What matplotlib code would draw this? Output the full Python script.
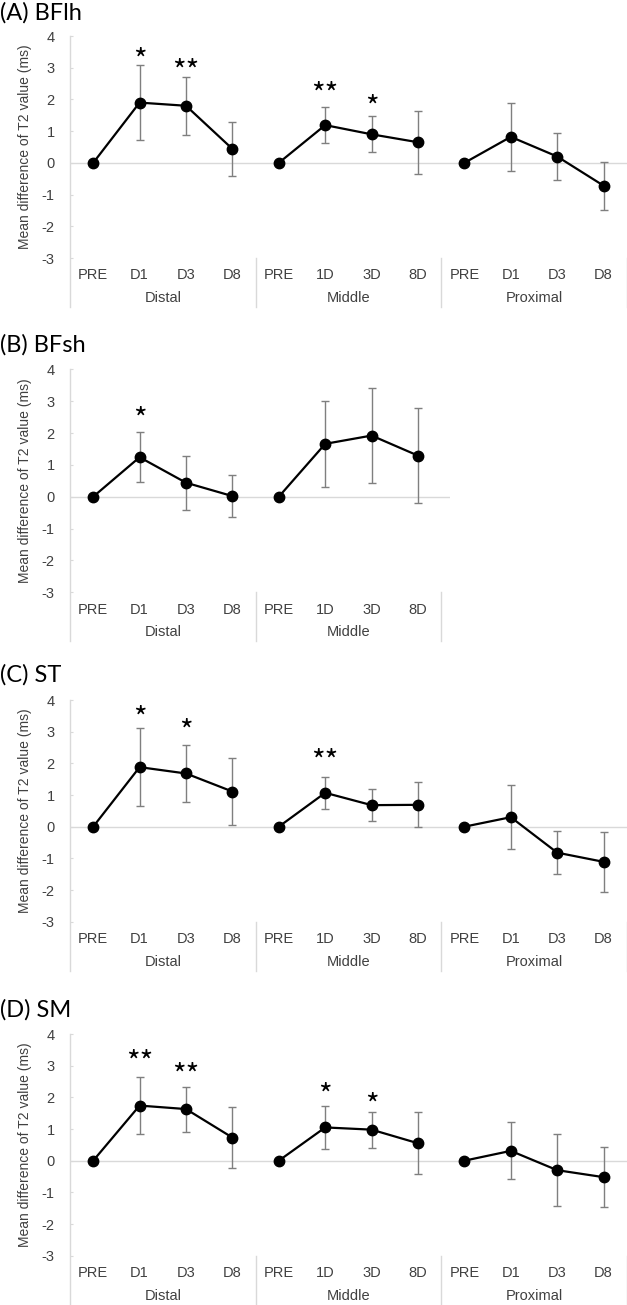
import numpy as np
import matplotlib
matplotlib.use("Agg")
import matplotlib.pyplot as plt
import matplotlib.transforms as mtransforms
from matplotlib.lines import Line2D

plt.rcParams['font.family'] = ['Liberation Sans', 'DejaVu Sans']

# ---------------- data ----------------
ticks_3 = ["PRE", "D1", "D3", "D8", "PRE", "1D", "3D", "8D", "PRE", "D1", "D3", "D8"]
ticks_2 = ticks_3[:8]
groups_3 = ["Distal", "Middle", "Proximal"]
groups_2 = ["Distal", "Middle"]

titles = ["(A) BFlh", "(B) BFsh", "(C) ST", "(D) SM"]

A_mean = [0, 1.90, 1.80, 0.44, 0, 1.19, 0.90, 0.65, 0, 0.82, 0.20, -0.72]
A_err = [0, 1.18, 0.92, 0.85, 0, 0.57, 0.57, 1.00, 0, 1.07, 0.75, 0.76]
A_star_idx = [1, 2, 5, 6]
A_star_txt = ["*", "**", "**", "*"]
A_star_y = [3.46, 3.10, 2.39, 1.97]

B_mean = [0, 1.24, 0.44, 0.02, 0, 1.66, 1.92, 1.29]
B_err = [0, 0.79, 0.85, 0.67, 0, 1.36, 1.50, 1.50]
B_star_idx = [1]
B_star_txt = ["*"]
B_star_y = [2.65]

C_mean = [0, 1.88, 1.68, 1.11, 0, 1.07, 0.68, 0.69, 0, 0.30, -0.82, -1.11]
C_err = [0, 1.24, 0.89, 1.05, 0, 0.51, 0.51, 0.71, 0, 1.01, 0.67, 0.95]
C_star_idx = [1, 2, 5]
C_star_txt = ["*", "*", "**"]
C_star_y = [3.66, 3.24, 2.28]

D_mean = [0, 1.74, 1.63, 0.73, 0, 1.05, 0.98, 0.55, 0, 0.31, -0.30, -0.52]
D_err = [0, 0.90, 0.71, 0.97, 0, 0.68, 0.57, 0.98, 0, 0.90, 1.14, 0.95]
D_star_idx = [1, 2, 5, 6]
D_star_txt = ["**", "**", "*", "*"]
D_star_y = [3.35, 2.93, 2.30, 1.97]

y_ticks = [-3, -2, -1, 0, 1, 2, 3, 4]
y_label = "Mean difference of T2 value (ms)"

# ---------------- layout ----------------
W, H = 627, 1305
fig = plt.figure(figsize=(W / 100, H / 100), dpi=100)

slot = 46.4
left_px = 70.0
panel_tops = [36.0, 369.3, 700.0, 1034.0]
panel_bots = [258.0, 592.3, 921.7, 1255.7]
title_y = [13, 345, 675, 1010]

panels = [
    (A_mean, A_err, ticks_3, groups_3, A_star_idx, A_star_txt, A_star_y, 0.0),
    (B_mean, B_err, ticks_2, groups_2, B_star_idx, B_star_txt, B_star_y, 0.2),
    (C_mean, C_err, ticks_3, groups_3, C_star_idx, C_star_txt, C_star_y, 0.0),
    (D_mean, D_err, ticks_3, groups_3, D_star_idx, D_star_txt, D_star_y, 0.0),
]

grid_c = "#d9d9d9"
text_c = "#404040"
star_fs = 21

for p, (mean, err, tks, grps, sidx, stxt, sy, extra) in enumerate(panels):
    n = len(tks)
    top, bot = panel_tops[p], panel_bots[p]
    right_px = left_px + (n + extra) * slot
    ax = fig.add_axes([left_px / W, 1 - bot / H, (right_px - left_px) / W, (bot - top) / H])
    ax.set_xlim(-0.5, n - 0.5 + extra)
    ax.set_ylim(-3, 4)
    for s in ax.spines.values():
        s.set_visible(False)
    ax.axhline(0, color=grid_c, lw=1.0, zorder=1)

    mean = np.asarray(mean, float)
    err = np.asarray(err, float)
    x = np.arange(n)
    for g in range(len(grps)):
        sl = slice(4 * g, 4 * g + 4)
        xs, ms, es = x[sl], mean[sl], err[sl]
        m = es > 0
        ax.errorbar(xs[m], ms[m], yerr=es[m], fmt='none', ecolor='#7f7f7f',
                    elinewidth=1.0, capsize=3, capthick=1.0, zorder=2)
        ax.plot(xs, ms, '-o', color='black', lw=1.6, ms=7.5, zorder=3)

    # stars
    st_tr = mtransforms.offset_copy(ax.transData, fig=fig, y=-0.57 * star_fs, units='points')
    for i, t, yv in zip(sidx, stxt, sy):
        ax.text(i, yv, t, transform=st_tr, ha='center', va='baseline',
                fontsize=star_fs, color='black', family=['Noto Sans CJK JP', 'DejaVu Sans'])

    # left axis line and separators
    h_px = bot - top
    low = -49.0 / h_px
    blend = mtransforms.blended_transform_factory(ax.transData, ax.transAxes)
    ax.add_line(Line2D([0, 0], [1, low], transform=ax.transAxes, color=grid_c, lw=1.0, clip_on=False))
    for g in range(1, len(grps) + 1):
        xv = 4 * g - 0.5
        ax.add_line(Line2D([xv, xv], [0, low], transform=blend, color=grid_c, lw=1.0, clip_on=False))

    # x tick labels
    ax.set_xticks(x)
    ax.set_xticklabels(tks)
    ax.tick_params(axis='x', length=0, pad=7.5, labelsize=10.5, labelcolor=text_c)
    # group labels
    for g, name in enumerate(grps):
        ax.text(4 * g + 1.5, -40.0 / h_px, name, transform=blend, ha='center', va='center',
                fontsize=10.5, color=text_c)

    # y ticks
    ax.set_yticks(y_ticks)
    ax.set_yticklabels([str(v) for v in y_ticks])
    ax.tick_params(axis='y', length=2.5, direction='in', color=grid_c, pad=11,
                   labelsize=10.5, labelcolor=text_c)
    ax.set_ylabel(y_label, fontsize=10, color=text_c)
    ax.yaxis.set_label_coords(-38.0 / (right_px - left_px), 0.5)

    fig.text(0, 1 - title_y[p] / H, titles[p], ha='left', va='center', fontsize=17,
             family=['Lato', 'DejaVu Sans'], color='black')

fig.savefig("out.png", dpi=100)
